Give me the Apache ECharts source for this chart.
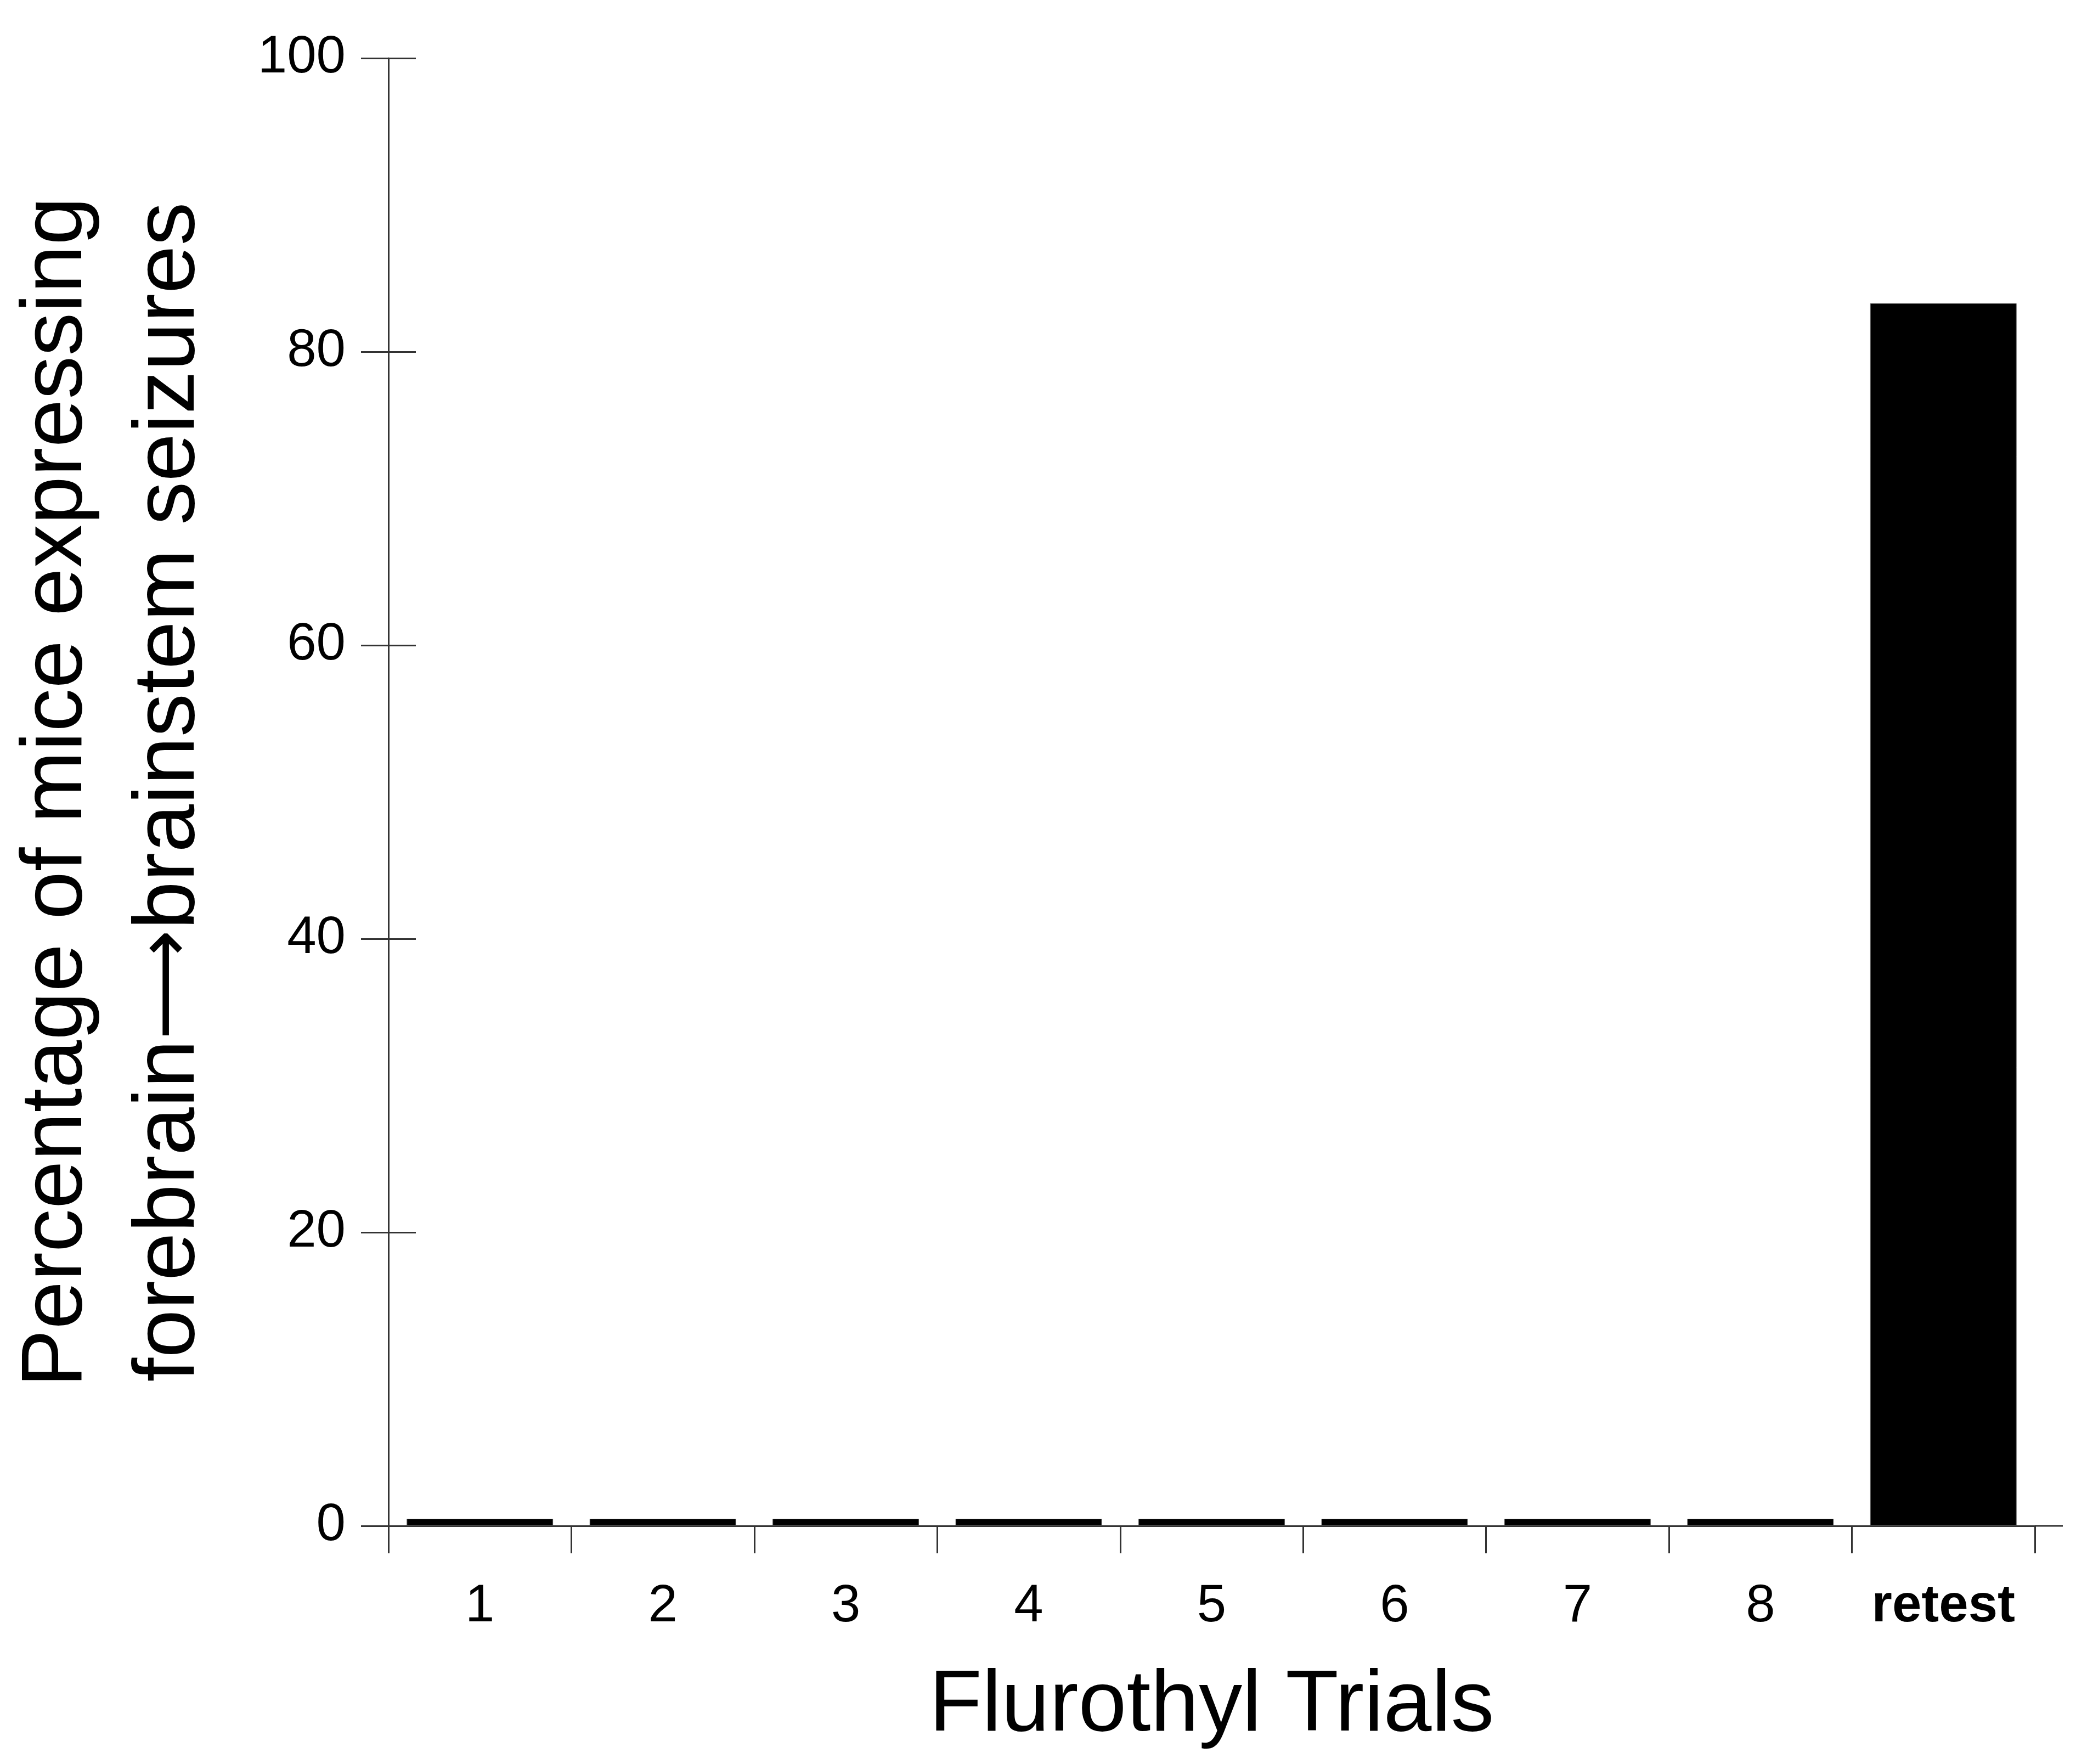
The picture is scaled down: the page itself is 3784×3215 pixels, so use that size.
<!DOCTYPE html>
<html>
<head>
<meta charset="utf-8">
<script src="https://cdn.jsdelivr.net/npm/echarts@6/dist/echarts.min.js"></script>
<style>html,body{margin:0;padding:0;background:#fff}#c{width:3784px;height:3215px}</style>
</head>
<body>
<div id="c"></div>
<script>
const categories = ['1', '2', '3', '4', '5', '6', '7', '8', 'retest'];
const percentValues = [0, 0, 0, 0, 0, 0, 0, 0, 83.3];
const yTicks = [0, 20, 40, 60, 80, 100];
const xTitle = 'Flurothyl Trials';
const yTitleLine1 = 'Percentage of mice expressing';
const yTitleLine2a = 'forebrain';
const yTitleArrow = '\u27F6';
const yTitleLine2b = 'brainstem seizures';

const FONT = '"Liberation Sans", Arial, sans-serif';
const chart = echarts.init(document.getElementById('c'), null, {renderer: 'canvas'});
const axisColor = '#333';
const option = {
  backgroundColor: '#fff',
  animation: false,
  grid: {left: 708, top: 106, right: 75, bottom: 434, containLabel: false, outerBoundsMode: 'none'},
  xAxis: {
    type: 'category',
    data: categories,
    boundaryGap: true,
    name: xTitle,
    nameLocation: 'middle',
    nameGap: 250,
    nameTextStyle: {fontFamily: FONT, fontSize: 158, color: '#000'},
    axisLine: {show: true, lineStyle: {color: axisColor, width: 3}},
    axisTick: {show: true, length: 50, inside: false, alignWithLabel: false, interval: 0, lineStyle: {color: axisColor, width: 3}},
    axisLabel: {
      interval: 0,
      fontFamily: FONT, fontSize: 96, color: '#000', margin: 100,
      formatter: v => v === 'retest' ? '{b|' + v + '}' : v,
      rich: {b: {fontFamily: FONT, fontSize: 96, fontWeight: 'bold', color: '#000'}}
    },
    splitLine: {show: false}
  },
  yAxis: [{
    type: 'value',
    min: yTicks[0], max: yTicks[yTicks.length - 1], interval: yTicks[1] - yTicks[0],
    name: yTitleLine1 + '\n' + yTitleLine2a + '{a|' + yTitleArrow + '}' + yTitleLine2b,
    nameLocation: 'middle',
    nameRotate: 90,
    nameGap: 296,
    nameTextStyle: {
      fontFamily: FONT, fontSize: 158, color: '#000', lineHeight: 205, align: 'center',
      rich: {a: {fontFamily: '"DejaVu Sans"', fontSize: 140, color: '#000', lineHeight: 205}}
    },
    axisLine: {show: true, lineStyle: {color: axisColor, width: 3}},
    axisTick: {show: true, length: 50, inside: false, lineStyle: {color: axisColor, width: 3}},
    axisLabel: {fontFamily: FONT, fontSize: 96, color: '#000', margin: 78},
    splitLine: {show: false}
  }, {
    type: 'value',
    position: 'left',
    min: yTicks[0], max: yTicks[yTicks.length - 1], interval: yTicks[1] - yTicks[0],
    axisLine: {show: false},
    axisTick: {show: true, length: 50, inside: true, lineStyle: {color: axisColor, width: 3}},
    axisLabel: {show: false},
    splitLine: {show: false}
  }],
  series: [{
    type: 'bar',
    data: percentValues,
    yAxisIndex: 0,
    barWidth: '80%',
    barMinHeight: 13,
    itemStyle: {color: '#000', borderColor: '#555', borderWidth: 1},
    z: 3
  }]
};
chart.setOption(option);
const y0 = chart.convertToPixel({yAxisIndex: 0}, 0);
const xEnd = 3784 - 75;
chart.setOption({graphic: [{type: 'line', shape: {x1: xEnd, y1: y0, x2: xEnd + 51, y2: y0}, style: {stroke: axisColor, lineWidth: 3}, z: 10}]});
</script>
</body>
</html>
